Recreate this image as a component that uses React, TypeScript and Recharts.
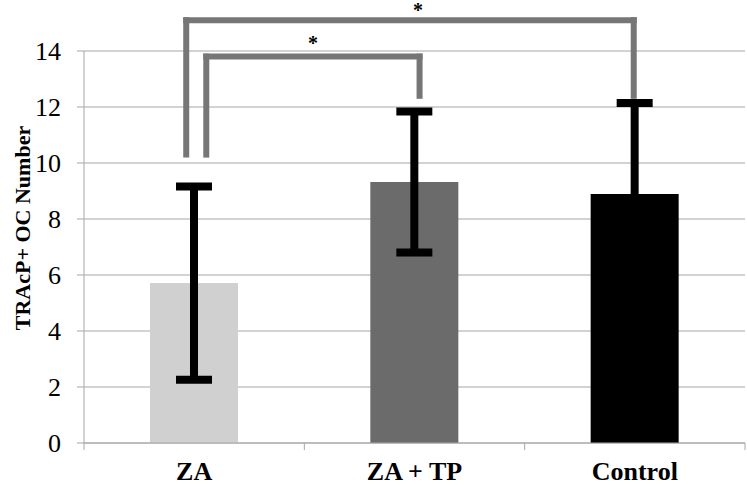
import { BarChart, Bar, Cell, XAxis, YAxis, CartesianGrid, ErrorBar, ReferenceLine, Label } from 'recharts';

const groups = ['ZA', 'ZA + TP', 'Control'];
const means = [5.71, 9.32, 8.89];
const errors = [3.45, 2.52, 3.25];
const barColors = ['#d0d0d0', '#6b6b6b', '#000000'];
const yTicks = [0, 2, 4, 6, 8, 10, 12, 14];

// significance brackets, x in category units (0..3), y in data units
const brackets = [
  { x1: 0.555, x2: 1.523, yLow: 10.3, yTop: 13.8, yRight: 12.4, starGap: 7, starDx: 0 },
  { x1: 0.464, x2: 2.495, yLow: 10.3, yTop: 15.1, yRight: 12.4, starGap: 3, starDx: 8 },
];
const boundaries = [0, 1, 2, 3];

const data = groups.map((g, i) => ({ name: g, pos: i + 0.5, mean: means[i], err: errors[i] }));

const serif = "'Liberation Serif', 'Times New Roman', serif";
const grey = '#a6a6a6';
const bracketGrey = '#767676';

// rotated y axis title, a bit above the plot's middle like the original
function YTitle(props: any) {
  const vb = props.viewBox;
  const cx = 30;
  const cy = vb.y + vb.height / 2 - 19;
  return (
    <text
      x={cx}
      y={cy}
      transform={`rotate(-90, ${cx}, ${cy})`}
      textAnchor='middle'
      fill='#000'
      fontFamily={serif}
      fontWeight='bold'
      fontSize={22}
    >
      TRAcP+ OC Number
    </text>
  );
}

export default function App() {
  return (
    <div style={{ position: 'absolute', left: 0, top: 0, fontFamily: serif }}>
      <BarChart width={747} height={485} data={data} margin={{ top: 51, right: 2, left: 0, bottom: 0 }}>
        <CartesianGrid vertical={false} stroke={grey} />
        <XAxis
          dataKey='name'
          height={42}
          axisLine={{ stroke: grey }}
          tickLine={false}
          tickSize={0}
          tickMargin={19}
          tick={{ fill: '#000', fontFamily: serif, fontWeight: 'bold', fontSize: 26 }}
        />
        <XAxis xAxisId='n' dataKey='pos' type='number' domain={[0, 3]} allowDataOverflow hide />
        <YAxis
          width={84}
          domain={[0, 14]}
          ticks={yTicks}
          interval={0}
          axisLine={{ stroke: grey }}
          tickLine={{ stroke: grey }}
          tickSize={7}
          tickMargin={16}
          tick={{ fill: '#000', fontFamily: serif, fontSize: 26 }}
        >
          <Label content={YTitle} />
        </YAxis>
        <Bar dataKey='mean' barSize={88} isAnimationActive={false}>
          {data.map((d, i) => (
            <Cell key={d.name} fill={barColors[i]} />
          ))}
          <ErrorBar dataKey='err' width={18} strokeWidth={8} stroke='#000' direction='y' />
        </Bar>
        {boundaries.map(b => (
          <ReferenceLine
            key={'b' + b}
            xAxisId='n'
            ifOverflow='visible'
            stroke={grey}
            segment={[{ x: b, y: 0 }, { x: b, y: -0.25 }]}
          />
        ))}
        {brackets.map((br, i) => [
          <ReferenceLine
            key={'l' + i}
            xAxisId='n'
            ifOverflow='visible'
            stroke={bracketGrey}
            strokeWidth={6}
            strokeLinecap='square'
            segment={[{ x: br.x1, y: br.yLow }, { x: br.x1, y: br.yTop }]}
          />,
          <ReferenceLine
            key={'t' + i}
            xAxisId='n'
            ifOverflow='visible'
            stroke={bracketGrey}
            strokeWidth={6}
            strokeLinecap='square'
            segment={[{ x: br.x1, y: br.yTop }, { x: br.x2, y: br.yTop }]}
            label={{ value: '*', position: 'top', offset: br.starGap, dx: br.starDx, fill: '#000', fontFamily: serif, fontWeight: 'bold', fontSize: 20 }}
          />,
          <ReferenceLine
            key={'r' + i}
            xAxisId='n'
            ifOverflow='visible'
            stroke={bracketGrey}
            strokeWidth={6}
            strokeLinecap='square'
            segment={[{ x: br.x2, y: br.yTop }, { x: br.x2, y: br.yRight }]}
          />,
        ])}
      </BarChart>
    </div>
  );
}
